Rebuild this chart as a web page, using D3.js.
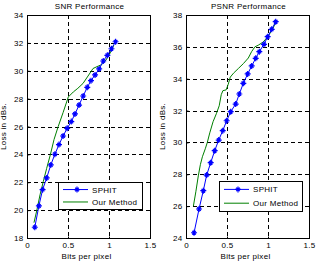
<!DOCTYPE html>
<html><head><meta charset="utf-8">
<script src="https://cdn.jsdelivr.net/npm/d3@7"></script>
<style>
html,body{margin:0;padding:0;background:#fff;}
svg text{font-family:"Liberation Sans",Arial,sans-serif;font-size:8px;fill:#000;letter-spacing:0.3px;}
</style></head><body>
<svg id="c" width="320" height="266"></svg>
<script>
// ---- data ----
const snrTitle = "SNR Performance";
const psnrTitle = "PSNR Performance";
const xLabel = "Bits per pixel";
const yLabel = "Loss in dBs.";
const seriesNames = ["SPHIT", "Our Method"];
const xTicks = [0, 0.5, 1, 1.5];
const snrYTicks = [18, 20, 22, 24, 26, 28, 30, 32, 34];
const psnrYTicks = [24, 26, 28, 30, 32, 34, 36, 38];

const snrSphitX = [0.095,0.145,0.19,0.24,0.29,0.34,0.39,0.44,0.49,0.54,0.585,0.635,0.685,0.735,0.78,0.83,0.88,0.93,0.98,1.03,1.08];
const snrSphitY = [18.77,20.30,21.47,22.31,23.24,24.01,24.70,25.32,25.87,26.35,26.90,27.54,28.19,28.81,29.29,29.70,30.13,30.70,31.11,31.58,32.08];
const snrOursX = [0.085,0.118,0.159,0.199,0.24,0.284,0.33,0.38,0.44,0.504,0.565,0.62,0.683,0.744,0.805,0.87,0.915,0.963,1.012,1.06];
const snrOursY = [19.1,19.94,21.1,22.06,23.0,23.96,25.07,25.99,27.0,28.12,28.48,28.74,29.09,29.62,30.16,30.34,30.45,30.77,31.25,31.85];

const psnrSphitX = [0.098,0.159,0.211,0.252,0.301,0.35,0.399,0.448,0.496,0.545,0.606,0.65,0.699,0.752,0.801,0.85,0.894,0.951,0.996,1.045,1.094];
const psnrSphitY = [24.33,25.82,26.97,27.95,28.73,29.48,30.15,30.74,31.36,31.93,32.41,33.04,33.71,34.30,34.80,35.28,35.70,36.16,36.64,37.10,37.58];
const psnrOursX = [0.09,0.12,0.15,0.175,0.2,0.235,0.26,0.29,0.33,0.37,0.405,0.43,0.45,0.49,0.515,0.54,0.58,0.64,0.7,0.76,0.8,0.84,0.88,0.94,1.0,1.06,1.09];
const psnrOursY = [26.0,26.9,27.9,28.6,29.1,29.6,30.0,30.6,31.3,31.8,32.3,33.0,33.25,33.3,33.65,34.1,34.35,34.65,34.95,35.3,35.7,36.0,36.1,36.3,36.65,37.15,37.5];

const blue = "#0000ff", green = "#008000";
const svg = d3.select("#c");

function panel(o) {
  const x = d3.scaleLinear().domain([0, 1.5]).range([o.x0, o.x1]);
  const y = d3.scaleLinear().domain(o.yDomain).range([o.y1, o.y0]);
  const g = svg.append("g");
  // grid
  const gx = xTicks.slice(1, -1), gy = o.yTicks.slice(1, -1);
  g.selectAll(".gx").data(gx).enter().append("line")
    .attr("x1", d => Math.round(x(d)) + 0.5).attr("x2", d => Math.round(x(d)) + 0.5)
    .attr("y1", o.y0).attr("y2", o.y1)
    .attr("stroke", "#000").attr("stroke-width", 1).attr("stroke-dasharray", "4,3");
  g.selectAll(".gy").data(gy).enter().append("line")
    .attr("y1", d => Math.round(y(d)) + 0.5).attr("y2", d => Math.round(y(d)) + 0.5)
    .attr("x1", o.x0).attr("x2", o.x1)
    .attr("stroke", "#000").attr("stroke-width", 1).attr("stroke-dasharray", "4,3");
  // axes
  const ax = g.append("g").attr("transform", `translate(0,${o.y1 + 0.5})`)
    .call(d3.axisBottom(x).tickValues(xTicks).tickFormat(d3.format("")).tickSizeInner(-2).tickSizeOuter(0).tickPadding(5));
  const ay = g.append("g").attr("transform", `translate(${o.x0 + 0.5},0)`)
    .call(d3.axisLeft(y).tickValues(o.yTicks).tickFormat(d3.format("")).tickSizeInner(-2).tickSizeOuter(0).tickPadding(4));
  [ax, ay].forEach(a => { a.select(".domain").remove(); a.selectAll("text").style("font-size", "8px"); a.attr("font-size", null).attr("font-family", null); });
  ax.selectAll("text").attr("dy", "0.5em");
  // mirrored ticks top/right
  g.selectAll(".tt").data(xTicks).enter().append("line")
    .attr("x1", d => Math.round(x(d)) + 0.5).attr("x2", d => Math.round(x(d)) + 0.5)
    .attr("y1", o.y0).attr("y2", o.y0 + 2).attr("stroke", "#000");
  g.selectAll(".tr").data(o.yTicks).enter().append("line")
    .attr("y1", d => Math.round(y(d)) + 0.5).attr("y2", d => Math.round(y(d)) + 0.5)
    .attr("x1", o.x1 - 2).attr("x2", o.x1).attr("stroke", "#000");
  // frame
  g.append("rect").attr("x", o.x0 + 0.5).attr("y", o.y0 + 0.5)
    .attr("width", o.x1 - o.x0).attr("height", o.y1 - o.y0)
    .attr("fill", "none").attr("stroke", "#000");
  // lines
  const line = d3.line().x(d => x(d[0])).y(d => y(d[1]));
  const ours = d3.zip(o.oursX, o.oursY), sph = d3.zip(o.sphX, o.sphY);
  g.append("path").datum(ours).attr("d", line).attr("fill", "none").attr("stroke", green).attr("stroke-width", 1);
  g.append("path").datum(sph).attr("d", line).attr("fill", "none").attr("stroke", blue).attr("stroke-width", 1);
  const star = "M-3,0H3M0,-3V3M-1.8,-1.8L1.8,1.8M-1.8,1.8L1.8,-1.8";
  g.selectAll(".m").data(sph).enter().append("path")
    .attr("transform", d => `translate(${x(d[0])},${y(d[1])})`)
    .attr("d", star).attr("stroke", blue).attr("stroke-width", 1.2).attr("fill", "none");
  // title & labels
  g.append("text").attr("x", (o.x0 + o.x1) / 2 + 1).attr("y", 9).attr("text-anchor", "middle").text(o.title);
  g.append("text").attr("x", (o.x0 + o.x1) / 2 - 2).attr("y", 259).attr("text-anchor", "middle").text(xLabel);
  g.append("text").attr("transform", `translate(${o.x0 - 21},${(o.y0 + o.y1) / 2}) rotate(-90)`)
    .attr("text-anchor", "middle").text(yLabel);
  // legend
  const L = o.legend;
  g.append("rect").attr("x", L.x + 0.5).attr("y", L.y + 0.5).attr("width", L.w).attr("height", L.h)
    .attr("fill", "#fff").attr("stroke", "#000");
  const r1 = L.y + L.h * 0.28, r2 = L.y + L.h * 0.74;
  g.append("line").attr("x1", L.x + 5).attr("x2", L.x + 30).attr("y1", r1).attr("y2", r1).attr("stroke", blue);
  g.append("path").attr("transform", `translate(${L.x + 19},${r1})`).attr("d", star).attr("stroke", blue).attr("stroke-width", 1.2);
  g.append("line").attr("x1", L.x + 5).attr("x2", L.x + 30).attr("y1", r2).attr("y2", r2).attr("stroke", green);
  g.append("text").attr("x", L.x + 34).attr("y", r1 + 3).text(seriesNames[0]);
  g.append("text").attr("x", L.x + 34).attr("y", r2 + 3).text(seriesNames[1]);
}

panel({x0: 27, x1: 150, y0: 15, y1: 238, yDomain: [18, 34], yTicks: snrYTicks, title: snrTitle,
  sphX: snrSphitX, sphY: snrSphitY, oursX: snrOursX, oursY: snrOursY,
  legend: {x: 58, y: 182, w: 84, h: 27}});
panel({x0: 186, x1: 309, y0: 15, y1: 238, yDomain: [24, 38], yTicks: psnrYTicks, title: psnrTitle,
  sphX: psnrSphitX, sphY: psnrSphitY, oursX: psnrOursX, oursY: psnrOursY,
  legend: {x: 219, y: 181, w: 83, h: 30}});
</script></body></html>
